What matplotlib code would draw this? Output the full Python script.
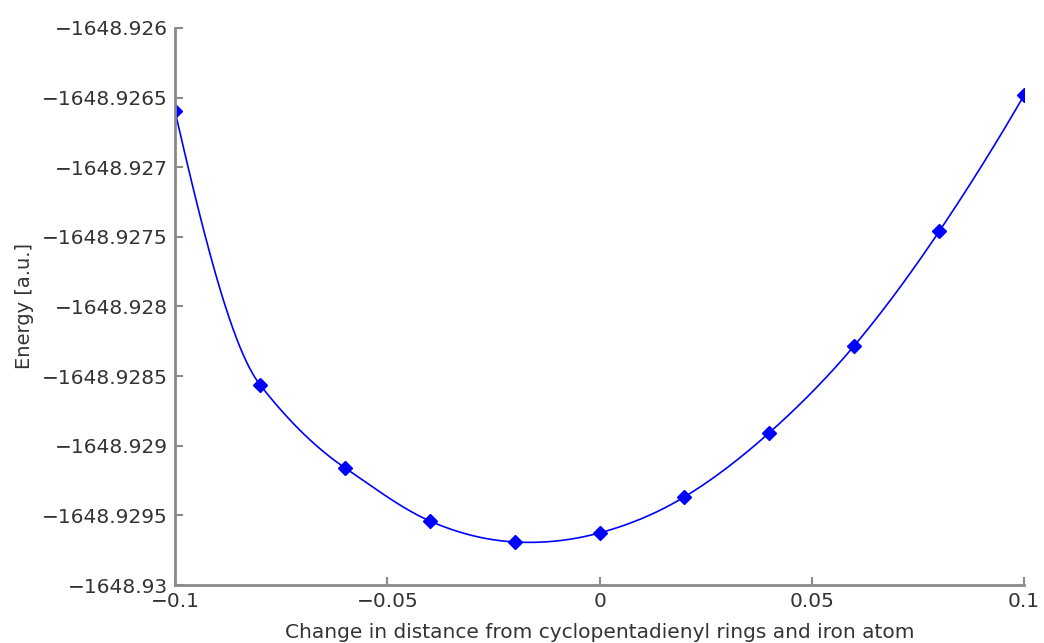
import matplotlib
matplotlib.use("Agg")
import matplotlib.pyplot as plt
import numpy as np
from matplotlib.ticker import FuncFormatter

# distance change vs total energy
dist = [-0.1, -0.08, -0.06, -0.04, -0.02, 0.0, 0.02, 0.04, 0.06, 0.08, 0.1]
energy = [-1648.926597, -1648.928561, -1648.929158, -1648.929540, -1648.929691,
          -1648.929626, -1648.929367, -1648.928906, -1648.928281, -1648.927460,
          -1648.926482]

x_ticks = [-0.1, -0.05, 0, 0.05, 0.1]
y_ticks = [-1648.93, -1648.9295, -1648.929, -1648.9285, -1648.928,
           -1648.9275, -1648.927, -1648.9265, -1648.926]


def akima(x, y, xs):
    # akima hermite interpolation, keeps the steep left part from wiggling
    x = np.asarray(x, float)
    y = np.asarray(y, float) - y[0]
    n = len(x)
    h = np.diff(x)
    m = np.diff(y) / h
    # two extrapolated secants on each side
    mm = np.concatenate([[3 * m[0] - 2 * m[1], 2 * m[0] - m[1]], m,
                         [2 * m[-1] - m[-2], 3 * m[-1] - 2 * m[-2]]])
    d = np.zeros(n)
    for i in range(n):
        w1 = abs(mm[i + 3] - mm[i + 2])
        w2 = abs(mm[i + 1] - mm[i])
        if w1 + w2 == 0:
            d[i] = 0.5 * (mm[i + 1] + mm[i + 2])
        else:
            d[i] = (w1 * mm[i + 1] + w2 * mm[i + 2]) / (w1 + w2)

    out = np.empty_like(xs)
    for j, t in enumerate(xs):
        i = min(max(np.searchsorted(x, t) - 1, 0), n - 2)
        s = (t - x[i]) / h[i]
        h00 = 2 * s**3 - 3 * s**2 + 1
        h10 = s**3 - 2 * s**2 + s
        h01 = -2 * s**3 + 3 * s**2
        h11 = s**3 - s**2
        out[j] = h00 * y[i] + h10 * h[i] * d[i] + h01 * y[i + 1] + h11 * h[i] * d[i + 1]
    return out


xs = np.linspace(dist[0], dist[-1], 600)
ys = akima(dist, energy, xs) + energy[0]

fig = plt.figure(figsize=(10.44, 6.43), dpi=100)
ax = fig.add_axes([0.1676, 0.0902, 0.8134, 0.8663])

ax.plot(xs, ys, color="#0000ff", lw=1.2)
ax.plot(dist, energy, linestyle="none", marker="D", markersize=7.5,
        color="#0000ff")

ax.set_xlim(-0.1, 0.1)
ax.set_ylim(-1648.93, -1648.926)
ax.set_xticks(x_ticks)
ax.set_yticks(y_ticks)


def fmt(v, pos):
    return ("%.8g" % round(v, 6)).replace("-", "\u2212")


ax.xaxis.set_major_formatter(FuncFormatter(fmt))
ax.yaxis.set_major_formatter(FuncFormatter(fmt))

for s in ["top", "right"]:
    ax.spines[s].set_visible(False)
for s in ["left", "bottom"]:
    ax.spines[s].set_color("#8a8a8a")
    ax.spines[s].set_linewidth(2)

ax.tick_params(direction="in", length=6, width=1.5, color="#8a8a8a",
               labelsize=14.5, labelcolor="#333333", pad=5)
ax.set_xlabel("Change in distance from cyclopentadienyl rings and iron atom",
              fontsize=14.5, color="#333333", labelpad=9)
ax.set_ylabel("Energy [a.u.]", fontsize=14, color="#333333", labelpad=6)

fig.savefig("out.png", dpi=100)
